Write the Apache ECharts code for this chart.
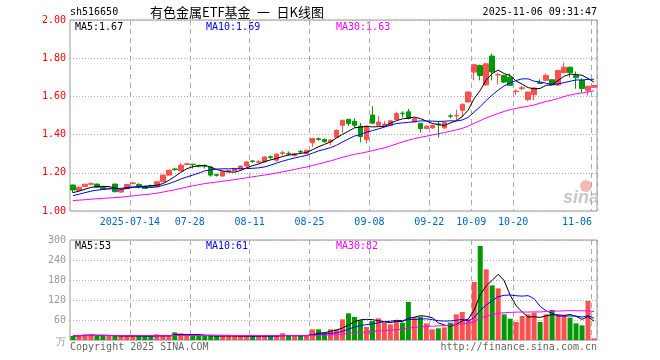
<!DOCTYPE html>
<html><head><meta charset="utf-8">
<script src="https://cdn.jsdelivr.net/npm/echarts@6/dist/echarts.min.js"></script>
<style>html,body{margin:0;padding:0;background:#fff}#c{width:660px;height:360px}</style>
</head><body><div id="c"></div>
<script>
const dates = ['2025-06-30',
'2025-07-01','2025-07-02','2025-07-03','2025-07-04','2025-07-07','2025-07-08','2025-07-09','2025-07-10','2025-07-11','2025-07-14','2025-07-15','2025-07-16','2025-07-17','2025-07-18','2025-07-21','2025-07-22','2025-07-23','2025-07-24','2025-07-25','2025-07-28','2025-07-29','2025-07-30','2025-07-31',
'2025-08-01','2025-08-04','2025-08-05','2025-08-06','2025-08-07','2025-08-08','2025-08-11','2025-08-12','2025-08-13','2025-08-14','2025-08-15','2025-08-18','2025-08-19','2025-08-20','2025-08-21','2025-08-22','2025-08-25','2025-08-26','2025-08-27','2025-08-28','2025-08-29',
'2025-09-01','2025-09-02','2025-09-03','2025-09-04','2025-09-05','2025-09-08','2025-09-09','2025-09-10','2025-09-11','2025-09-12','2025-09-15','2025-09-16','2025-09-17','2025-09-18','2025-09-19','2025-09-22','2025-09-23','2025-09-24','2025-09-25','2025-09-26','2025-09-29','2025-09-30',
'2025-10-09','2025-10-10','2025-10-13','2025-10-14','2025-10-15','2025-10-16','2025-10-17','2025-10-20','2025-10-21','2025-10-22','2025-10-23','2025-10-24','2025-10-27','2025-10-28','2025-10-29','2025-10-30','2025-10-31',
'2025-11-03','2025-11-04','2025-11-05','2025-11-06'];
const opens = [1.136,1.108,1.128,1.140,1.141,1.127,1.116,1.141,1.099,1.118,1.143,1.139,1.130,1.133,1.127,1.153,1.188,1.220,1.210,1.244,1.245,1.238,1.237,1.231,1.190,1.183,1.205,1.210,1.220,1.235,1.262,1.255,1.257,1.284,1.266,1.302,1.302,1.290,1.312,1.300,1.357,1.378,1.374,1.362,1.386,1.449,1.480,1.470,1.444,1.374,1.502,1.449,1.446,1.449,1.479,1.512,1.519,1.466,1.458,1.432,1.435,1.456,1.435,1.498,1.498,1.527,1.571,1.727,1.762,1.660,1.811,1.712,1.710,1.700,1.626,1.642,1.583,1.609,1.672,1.684,1.687,1.660,1.725,1.753,1.710,1.684,1.632,1.648];
const closes = [1.110,1.125,1.140,1.143,1.124,1.113,1.120,1.101,1.113,1.139,1.147,1.127,1.118,1.130,1.153,1.188,1.214,1.217,1.240,1.247,1.243,1.235,1.234,1.188,1.187,1.205,1.212,1.223,1.235,1.257,1.259,1.258,1.283,1.280,1.298,1.305,1.298,1.300,1.309,1.318,1.380,1.375,1.362,1.372,1.423,1.475,1.458,1.449,1.390,1.444,1.460,1.466,1.455,1.472,1.510,1.509,1.484,1.484,1.432,1.444,1.449,1.452,1.463,1.496,1.501,1.559,1.623,1.766,1.710,1.771,1.728,1.714,1.675,1.658,1.628,1.645,1.623,1.644,1.668,1.710,1.660,1.736,1.753,1.724,1.698,1.642,1.653,1.657];
const lows = [1.095,1.105,1.125,1.135,1.120,1.110,1.112,1.098,1.096,1.116,1.140,1.118,1.115,1.125,1.125,1.150,1.186,1.210,1.208,1.240,1.222,1.228,1.222,1.180,1.180,1.180,1.202,1.207,1.218,1.233,1.252,1.250,1.255,1.270,1.257,1.290,1.290,1.285,1.298,1.295,1.336,1.368,1.358,1.345,1.383,1.410,1.445,1.435,1.360,1.354,1.455,1.445,1.440,1.447,1.476,1.490,1.480,1.463,1.410,1.430,1.430,1.385,1.430,1.485,1.475,1.490,1.568,1.684,1.684,1.655,1.684,1.662,1.670,1.655,1.608,1.632,1.575,1.580,1.665,1.680,1.658,1.655,1.720,1.700,1.640,1.620,1.605,1.645];
const highs = [1.138,1.128,1.143,1.150,1.143,1.128,1.122,1.143,1.115,1.141,1.153,1.145,1.132,1.138,1.155,1.190,1.216,1.226,1.250,1.252,1.246,1.242,1.242,1.233,1.195,1.208,1.215,1.226,1.238,1.260,1.266,1.266,1.285,1.290,1.300,1.315,1.312,1.304,1.320,1.321,1.382,1.385,1.380,1.375,1.426,1.478,1.482,1.485,1.460,1.447,1.548,1.496,1.470,1.475,1.520,1.522,1.535,1.487,1.463,1.447,1.452,1.470,1.466,1.508,1.530,1.562,1.626,1.771,1.766,1.775,1.823,1.725,1.713,1.720,1.637,1.655,1.625,1.647,1.690,1.720,1.690,1.738,1.776,1.756,1.730,1.695,1.655,1.660];
const volumes = [12,14,17,17,12,12,12,12,12,12,12,12,12,12,17,12,12,23,20,14,12,12,12,12,12,12,12,12,12,12,12,12,12,12,12,20,12,12,12,12,32,32,22,32,32,62,80,69,60,39,57,65,52,47,60,52,114,69,70,50,32,35,38,52,77,84,62,174,282,212,164,155,77,64,54,72,77,82,54,77,90,74,74,67,50,44,117,5];
// closes / volumes of the 29 sessions before the first visible one (only feed the moving averages)
const priorCloses = [1.07,1.065,1.06,1.055,1.06,1.05,1.045,1.05,1.04,1.035,1.03,1.025,1.03,1.02,1.025,1.03,1.035,1.03,1.04,1.045,1.05,1.06,1.065,1.07,1.08,1.085,1.09,1.095,1.10];
const priorVolumes = [14,13,12,15,13,12,11,14,13,12,12,13,15,14,12,11,13,12,14,13,12,12,13,14,12,13,12,14,13];
const labelIdx = [10,20,30,40,50,60,67,74,87];
const priceLegend = ['MA5:1.67','MA10:1.69','MA30:1.63'];
const volLegend = ['MA5:53','MA10:61','MA30:82'];
const headerLeft = 'sh516650';
const headerTitle = '有色金属ETF基金\u2002一\u2002日K线图';
const headerTime = '2025-11-06 09:31:47';

const MONO = 'DejaVu Sans Mono';
const RED = '#ff5050', GREEN = '#009900';
function movingAvg(prior, vals, n) {
  const all = prior.concat(vals), off = prior.length;
  return vals.map((_, i) => { let s = 0; for (let k = 0; k < n; k++) s += all[off + i - k]; return +(s / n).toFixed(4); });
}
const kData = closes.map((c, i) => [opens[i], c, lows[i], highs[i]]);
const volData = volumes.map((v, i) => ({ value: v, itemStyle: { color: closes[i] >= opens[i] ? RED : GREEN } }));
const showIdx = (i) => labelIdx.indexOf(i) >= 0;

const chart = echarts.init(document.getElementById('c'));
const splitX = { show: true, interval: showIdx, lineStyle: { color: '#aaa', type: [5, 4], width: 1 } };
const lineS = (name, data, color, xi) => ({ name, type: 'line', data, xAxisIndex: xi, yAxisIndex: xi, symbol: 'none', lineStyle: { color, width: 1 }, silent: true });
const txt = (text, x, y, fill, extra) => ({ type: 'text', x, y, style: Object.assign({ text, fill, font: '10px "' + MONO + '"', textVerticalAlign: 'middle' }, extra || {}) });

chart.setOption({
  animation: false,
  grid: [
    { left: 70, top: 20, width: 527, height: 191, show: true, borderColor: '#999', borderWidth: 1 },
    { left: 70, top: 240, width: 527, height: 100, show: true, borderColor: '#999', borderWidth: 1 }
  ],
  xAxis: [
    { type: 'category', gridIndex: 0, data: dates, boundaryGap: true, axisLine: { show: false }, axisTick: { show: false },
      axisLabel: { interval: showIdx, color: '#0066cc', fontFamily: MONO, fontSize: 10, margin: 6, padding: [0, 6, 0, 0],
        formatter: (v, i) => i === 87 ? '{e|' + v.slice(5) + '}' : (i === 10 ? v : v.slice(5)),
        rich: { e: { padding: [0, 28, 0, 0], color: '#0066cc', fontFamily: MONO, fontSize: 10 } } },
      splitLine: splitX },
    { type: 'category', gridIndex: 1, data: dates, boundaryGap: true, axisLine: { show: false }, axisTick: { show: false },
      axisLabel: { show: false }, splitLine: splitX }
  ],
  yAxis: [
    { type: 'value', gridIndex: 0, min: 1, max: 2, interval: 0.2, axisLine: { show: false }, axisTick: { show: false },
      axisLabel: { formatter: v => v.toFixed(2), color: '#ff0000', fontFamily: MONO, fontSize: 10, margin: 4 },
      splitLine: { lineStyle: { color: '#aaa', type: [1, 2] } } },
    { type: 'value', gridIndex: 1, min: 0, max: 300, interval: 60, axisLine: { show: false }, axisTick: { show: false },
      axisLabel: { formatter: v => v === 0 ? '' : String(v), color: '#999', fontFamily: MONO, fontSize: 10, margin: 4 },
      splitLine: { lineStyle: { color: '#aaa', type: [1, 2] } } }
  ],
  series: [
    { type: 'candlestick', data: kData, xAxisIndex: 0, yAxisIndex: 0, barWidth: 5,
      itemStyle: { color: RED, color0: GREEN, borderColor: RED, borderColor0: GREEN, borderWidth: 1 } },
    lineS('MA5', movingAvg(priorCloses, closes, 5), '#000000', 0),
    lineS('MA10', movingAvg(priorCloses, closes, 10), '#0000ff', 0),
    lineS('MA30', movingAvg(priorCloses, closes, 30), '#ff00ff', 0),
    { type: 'bar', data: volData, xAxisIndex: 1, yAxisIndex: 1, barWidth: 5 },
    lineS('VMA5', movingAvg(priorVolumes, volumes, 5), '#000000', 1),
    lineS('VMA10', movingAvg(priorVolumes, volumes, 10), '#0000ff', 1),
    lineS('VMA30', movingAvg(priorVolumes, volumes, 30), '#ff00ff', 1)
  ],
  graphic: [
    txt(headerLeft, 70, 12, '#000'),
    { type: 'text', x: 150, y: 12, style: { text: headerTitle, fill: '#000', font: '13px "Noto Sans CJK SC"', textVerticalAlign: 'middle' } },
    txt(headerTime, 597, 12, '#000', { textAlign: 'right' }),
    txt(priceLegend[0], 75, 27, '#000'),
    txt(priceLegend[1], 206, 27, '#0000ff'),
    txt(priceLegend[2], 336, 27, '#ff00ff'),
    txt(volLegend[0], 75, 246, '#000'),
    txt(volLegend[1], 206, 246, '#0000ff'),
    txt(volLegend[2], 336, 246, '#ff00ff'),
    txt('万', 56, 342, '#999'),
    txt('Copyright 2025 SINA.COM', 70, 347, '#666'),
    txt('http://finance.sina.com.cn', 597, 347, '#666', { textAlign: 'right' }),
    { type: 'circle', shape: { cx: 586, cy: 186, r: 6 }, style: { fill: '#f3b8b8' }, silent: true },
    { type: 'text', x: 563, y: 198, style: { text: 'sina', fill: '#c8c8c8', font: 'italic bold 18px "Liberation Sans"', textVerticalAlign: 'middle' }, silent: true }
  ]
});
</script></body></html>
